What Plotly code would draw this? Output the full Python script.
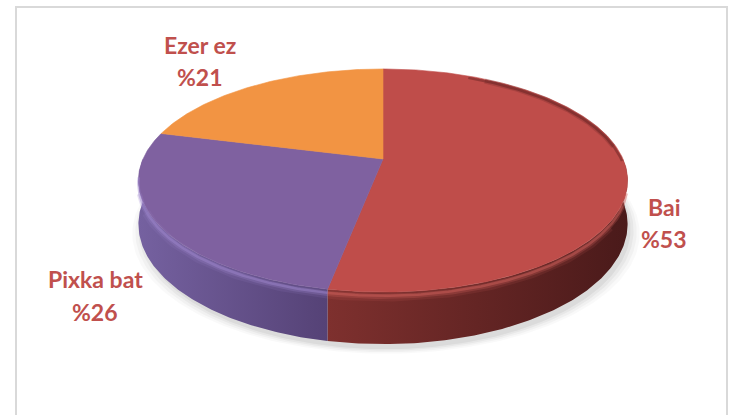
import numpy as np
import plotly.graph_objects as go

# Survey answers and their shares (%)
labels = ["Bai", "Pixka bat", "Ezer ez"]
shares = [53, 26, 21]

# Slice colours: top face, side (light end), side (dark end), rim highlight
top_colors = ["#BF4D4A", "#7F61A0", "#F29443"]
side_light = ["#7e302e", "#7561a0", "#c0702f"]
side_dark = ["#4a1a1a", "#554276", "#8a4d1d"]
rim_colors = ["#d2625d", "#a088cf", "#ffb070"]

W, H_PX = 731, 415

# Projection of the tilted disc onto the page (pixel coordinates)
CX, CY = 383.0, 159.0      # centre of the top face
RX, RY = 240.0, 107.4      # radii before perspective
PERSP = 0.193              # perspective strength (far side smaller)
DEPTH = 42.0               # thickness of the disc


def project(phi_deg, drop=0.0):
    """phi measured clockwise from the far point (12 o'clock)."""
    phi = np.radians(np.asarray(phi_deg, dtype=float))
    x3 = np.sin(phi)
    s = np.cos(phi)
    w = 1.0 + PERSP * s
    return CX + RX * x3 / w, CY - RY * s / w + drop / w


def arc(a, b, drop=0.0, n=None):
    n = n or max(8, int(abs(b - a) * 1.5))
    return project(np.linspace(a, b, n), drop)


fig = go.Figure()

# Soft drop shadow beneath the disc
for grow, alpha in [(9, 0.025), (6, 0.03), (3, 0.04), (0, 0.05)]:
    phis = np.linspace(0, 360, 300)
    x, y = project(phis, DEPTH)
    x = CX + (x - CX) * (1 + grow / RX) + 3
    y = y + 5 + grow * 0.5
    fig.add_trace(go.Scatter(x=x, y=y, mode="lines", fill="toself",
                             fillcolor=f"rgba(0,0,0,{alpha})",
                             line=dict(width=0), hoverinfo="skip"))

# Slice angle ranges
bounds = np.concatenate([[0], np.cumsum(shares)]) * 360.0 / sum(shares)

# Visible sides (near half of the disc, phi between 90 and 270)
for i in range(len(shares)):
    a, b = max(bounds[i], 90.0), min(bounds[i + 1], 270.0)
    if b <= a:
        continue
    xt, yt = arc(a, b)
    xb, yb = arc(b, a, DEPTH)
    fig.add_trace(go.Scatter(
        x=np.concatenate([xt, xb]), y=np.concatenate([yt, yb]),
        mode="lines", fill="toself", line=dict(width=0),
        fillgradient=dict(type="horizontal",
                          colorscale=[[0, side_light[i]], [1, side_dark[i]]]),
        hoverinfo="skip"))

# Top faces
for i in range(len(shares)):
    xa, ya = arc(bounds[i], bounds[i + 1])
    fig.add_trace(go.Scatter(
        x=np.concatenate([[CX], xa, [CX]]), y=np.concatenate([[CY], ya, [CY]]),
        mode="lines", fill="toself", fillcolor=top_colors[i],
        line=dict(width=0.6, color=top_colors[i]),
        name=labels[i], hoverinfo="name"))

# Soft bevel highlight along the front rim (wider strokes kept off the ends)
rim_layers = [(4.0, 9, 0.12, 122, 245), (3.5, 5, 0.25, 112, 254),
              (3.0, 2.5, 0.45, 106, 262)]
for i in range(len(shares)):
    for drop, width, op, lo, hi in rim_layers:
        a, b = max(bounds[i], lo), min(bounds[i + 1], hi)
        if b <= a:
            continue
        xr, yr = arc(a, b, drop)
        fig.add_trace(go.Scatter(x=xr, y=yr, mode="lines",
                                 line=dict(color=rim_colors[i], width=width),
                                 opacity=op, hoverinfo="skip"))

# Darker bevel on the right-hand edge of the top face
for width, op, lo, hi in [(5, 0.18, 30, 82), (2.5, 0.35, 25, 90)]:
    xr, yr = arc(lo, hi, 2.0)
    fig.add_trace(go.Scatter(x=xr - 1.0, y=yr, mode="lines",
                             line=dict(color="#461414", width=width),
                             opacity=op, hoverinfo="skip"))

# Data labels (name on one line, share below)
label_xy = [(664, 207, 239), (95, 279, 312), (200, 45, 77)]
label_font = dict(family="Lato", size=23, color="#C0504D", weight="bold")
for i, (lx, ly1, ly2) in enumerate(label_xy):
    fig.add_annotation(x=lx, y=ly1, text=labels[i], showarrow=False,
                       font=label_font, xanchor="center", yanchor="middle")
    fig.add_annotation(x=lx, y=ly2, text=f"%{shares[i]}", showarrow=False,
                       font=label_font, xanchor="center", yanchor="middle")

# Chart-area frame
fig.add_shape(type="rect", x0=16, y0=7, x1=727, y1=425,
              line=dict(color="#d9d9d9", width=2), layer="below")

fig.update_layout(
    width=W, height=H_PX, autosize=False,
    margin=dict(l=0, r=0, t=0, b=0),
    paper_bgcolor="white", plot_bgcolor="white",
    showlegend=False,
    xaxis=dict(range=[0, W], visible=False, fixedrange=True),
    yaxis=dict(range=[H_PX, 0], visible=False, fixedrange=True),
)

fig.write_html("out.html")
